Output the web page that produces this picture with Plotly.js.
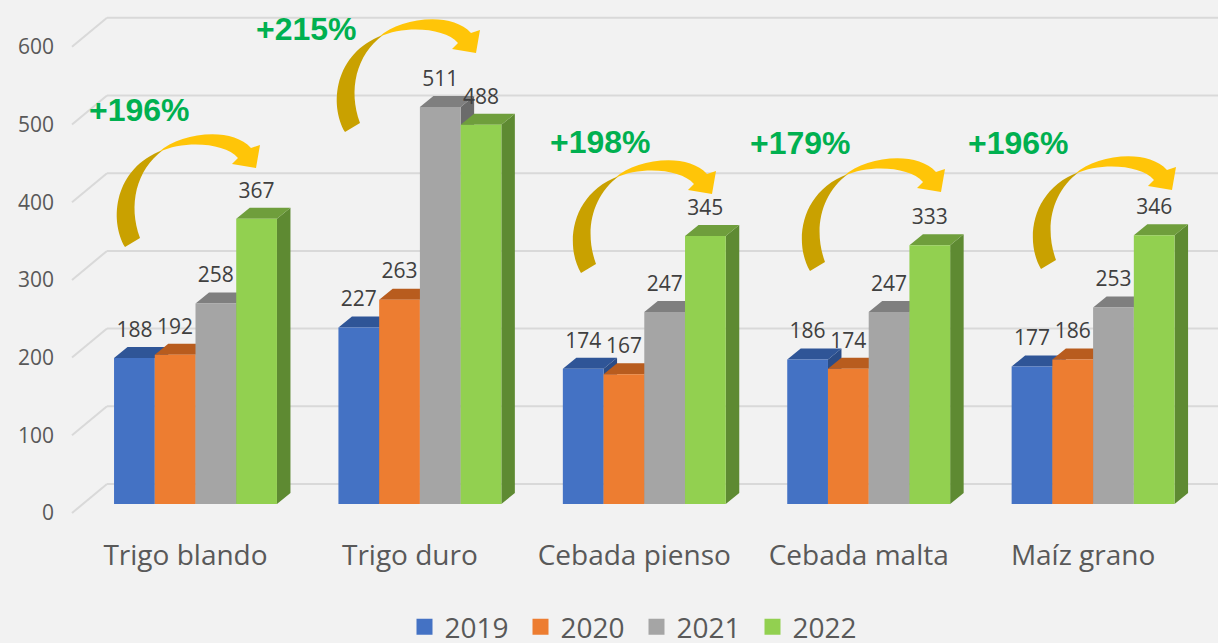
<!DOCTYPE html>
<html>
<head>
<meta charset="utf-8">
<script src="https://cdn.plot.ly/plotly-3.0.1.min.js"></script>
<style>html,body{margin:0;padding:0;background:#f2f2f2;}#chart{width:1218px;height:643px;}</style>
</head>
<body>
<div id="chart"></div>
<script>
// ---- data ----
const categories = ['Trigo blando', 'Trigo duro', 'Cebada pienso', 'Cebada malta', 'Maíz grano'];
const years = ['2019', '2020', '2021', '2022'];
const v2019 = [188, 227, 174, 186, 177];
const v2020 = [192, 263, 167, 174, 186];
const v2021 = [258, 511, 247, 247, 253];
const v2022 = [367, 488, 345, 333, 346];
const pctLabels = ['+196%', '+215%', '+198%', '+179%', '+196%'];
const yTicks = [0, 100, 200, 300, 400, 500, 600];

// ---- geometry / styles ----
const L = 55, PW = 1163, PB = 530;          // plot left, width, bottom (px)
const PXU = 224.4, PYU = 0.777;            // px per x unit, px per y unit
const x0 = -(195.5 - L) / PXU;
const xRange = [x0, x0 + PW / PXU];
const yRange = [-(PB - 504) / PYU, 504 / PYU];
const BW = 0.1815, OFF0 = -2 * BW;
const DX = 13.5 / PXU, DY = 11 / PYU;
const LABEL_LIFT = 5 / PYU;
const series = [v2019, v2020, v2021, v2022];
const frontC = ['#4472c4', '#ed7d31', '#a5a5a5', '#92d050'];
const topC = ['#2f5597', '#b85c1e', '#7f7f7f', '#6f9e3c'];
const sideC = ['#2a4c87', '#a3521a', '#6b6b6b', '#5e8a32'];
const X = px => (px - L) / PW;
const Y = py => (PB - py) / PB;

const traces = [];
function poly(xs, ys, color, name) {
  return {type: 'scatter', mode: 'lines', x: xs, y: ys, fill: 'toself', fillcolor: color,
    line: {width: 0, color: color}, hoverinfo: 'skip', showlegend: false, name: name};
}
// side faces
series.forEach((vals, j) => {
  const xs = [], ys = [];
  vals.forEach((v, i) => {
    const r = i + OFF0 + (j + 1) * BW;
    xs.push(r, r + DX, r + DX, r, null);
    ys.push(0, DY, v + DY, v, null);
  });
  traces.push(poly(xs, ys, sideC[j], years[j]));
});
// top faces
series.forEach((vals, j) => {
  const xs = [], ys = [];
  vals.forEach((v, i) => {
    const l = i + OFF0 + j * BW, r = l + BW;
    xs.push(l, r, r + DX, l + DX, null);
    ys.push(v, v, v + DY, v + DY, null);
  });
  traces.push(poly(xs, ys, topC[j], years[j]));
});
// front faces (the bars)
series.forEach((vals, j) => {
  const xs = [], ys = [];
  vals.forEach((v, i) => {
    const l = i + OFF0 + j * BW, r = l + BW;
    xs.push(l, r, r, l, null);
    ys.push(0, 0, v, v, null);
  });
  traces.push(poly(xs, ys, frontC[j], years[j]));
});
// value labels
series.forEach((vals, j) => {
  traces.push({type: 'scatter', mode: 'text', x: vals.map((v, i) => i + OFF0 + j * BW + BW / 2),
    y: vals.map(v => v + DY + LABEL_LIFT), text: vals.map(String), textposition: 'top center',
    textfont: {family: 'Open Sans', size: 21, color: '#404040'}, hoverinfo: 'skip',
    showlegend: false, cliponaxis: false});
});
// legend entries
years.forEach((yr, j) => {
  traces.push({type: 'scatter', mode: 'markers', name: yr, x: [null], y: [null],
    marker: {symbol: 'square', size: 16, color: frontC[j], line: {width: 0}}});
});

// ---- gridlines (back wall) ----
const shapes = [];
yTicks.forEach(v => {
  shapes.push({type: 'line', xref: 'paper', yref: 'y', xsizemode: 'pixel', xanchor: 0,
    x0: 72 - L, x1: 107 - L, y0: v - 9 / PYU, y1: v + 20 / PYU, layer: 'below',
    line: {color: '#d9d9d9', width: 2}});
  shapes.push({type: 'line', xref: 'paper', yref: 'y', xsizemode: 'pixel', xanchor: 0,
    x0: 107 - L, x1: PW, y0: v + 20 / PYU, y1: v + 20 / PYU, layer: 'below',
    line: {color: '#d9d9d9', width: 2}});
});

// ---- curved arrows (pixel outlines, translated per group) ----
// each segment: [command, [x,y], [x,y], ...]
const darkPath = [['M', [125, 247]], ['C', [109, 220], [114, 168], [163, 150]],
                  ['C', [136, 170], [128, 205], [140, 238]], ['Z']];
const brightPath = [['M', [159, 152]], ['C', [180, 133], [231, 126], [251, 148]],
                    ['L', [260, 145]], ['L', [256, 168]], ['L', [232, 164]], ['L', [238, 158]],
                    ['C', [225, 143], [185, 140], [159, 152]], ['Z']];
const arrowOffsets = [[0, 0], [220, -115], [456, 26], [685, 24], [916, 22]];
const pathOf = (segs, ox, oy) => segs.map(s => s[0] + s.slice(1).map(p =>
  X(p[0] + ox).toFixed(5) + ',' + Y(p[1] + oy).toFixed(5)).join(' ')).join(' ');
arrowOffsets.forEach(o => {
  shapes.push({type: 'path', xref: 'paper', yref: 'paper', path: pathOf(darkPath, o[0], o[1]),
    fillcolor: '#c9a100', line: {width: 0}, layer: 'above'});
  shapes.push({type: 'path', xref: 'paper', yref: 'paper', path: pathOf(brightPath, o[0], o[1]),
    fillcolor: '#ffc508', line: {width: 0}, layer: 'above'});
});

// ---- percent annotations ----
const pctPos = [[139, 110], [306, 29], [600, 142], [800, 143], [1018, 143]];
const annotations = pctLabels.map((t, i) => ({
  text: t, xref: 'paper', yref: 'paper', x: X(pctPos[i][0]), y: Y(pctPos[i][1]),
  xanchor: 'center', yanchor: 'middle', showarrow: false,
  font: {family: 'Liberation Sans, Arial', size: 32, weight: 'bold', color: '#00b050'}
}));

const layout = {
  width: 1218, height: 643,
  paper_bgcolor: '#f2f2f2', plot_bgcolor: '#f2f2f2',
  margin: {l: L, r: 0, t: 0, b: 643 - PB, autoexpand: false},
  font: {family: 'Open Sans', color: '#595959'},
  xaxis: {range: xRange, tickvals: categories.map((c, i) => i), ticktext: categories,
    ticklabelshift: -10, ticklabelstandoff: 6, tickfont: {family: 'Open Sans', size: 28, color: '#595959'},
    showgrid: false, zeroline: false, showline: false, ticks: '', automargin: false, fixedrange: true},
  yaxis: {range: yRange, tickvals: yTicks, ticklabelshift: 9,
    tickfont: {family: 'Open Sans', size: 21, color: '#595959'},
    showgrid: false, zeroline: false, showline: false, ticks: '', automargin: false, fixedrange: true},
  showlegend: true,
  legend: {orientation: 'h', x: 0.5, xanchor: 'center', y: Y(627), yanchor: 'middle',
    font: {family: 'Open Sans', size: 28, color: '#595959'}, bgcolor: 'rgba(0,0,0,0)',
    entrywidth: 71, entrywidthmode: 'pixels'},
  shapes: shapes,
  annotations: annotations
};

Plotly.newPlot('chart', traces, layout, {displayModeBar: false, staticPlot: true});
</script>
</body>
</html>
